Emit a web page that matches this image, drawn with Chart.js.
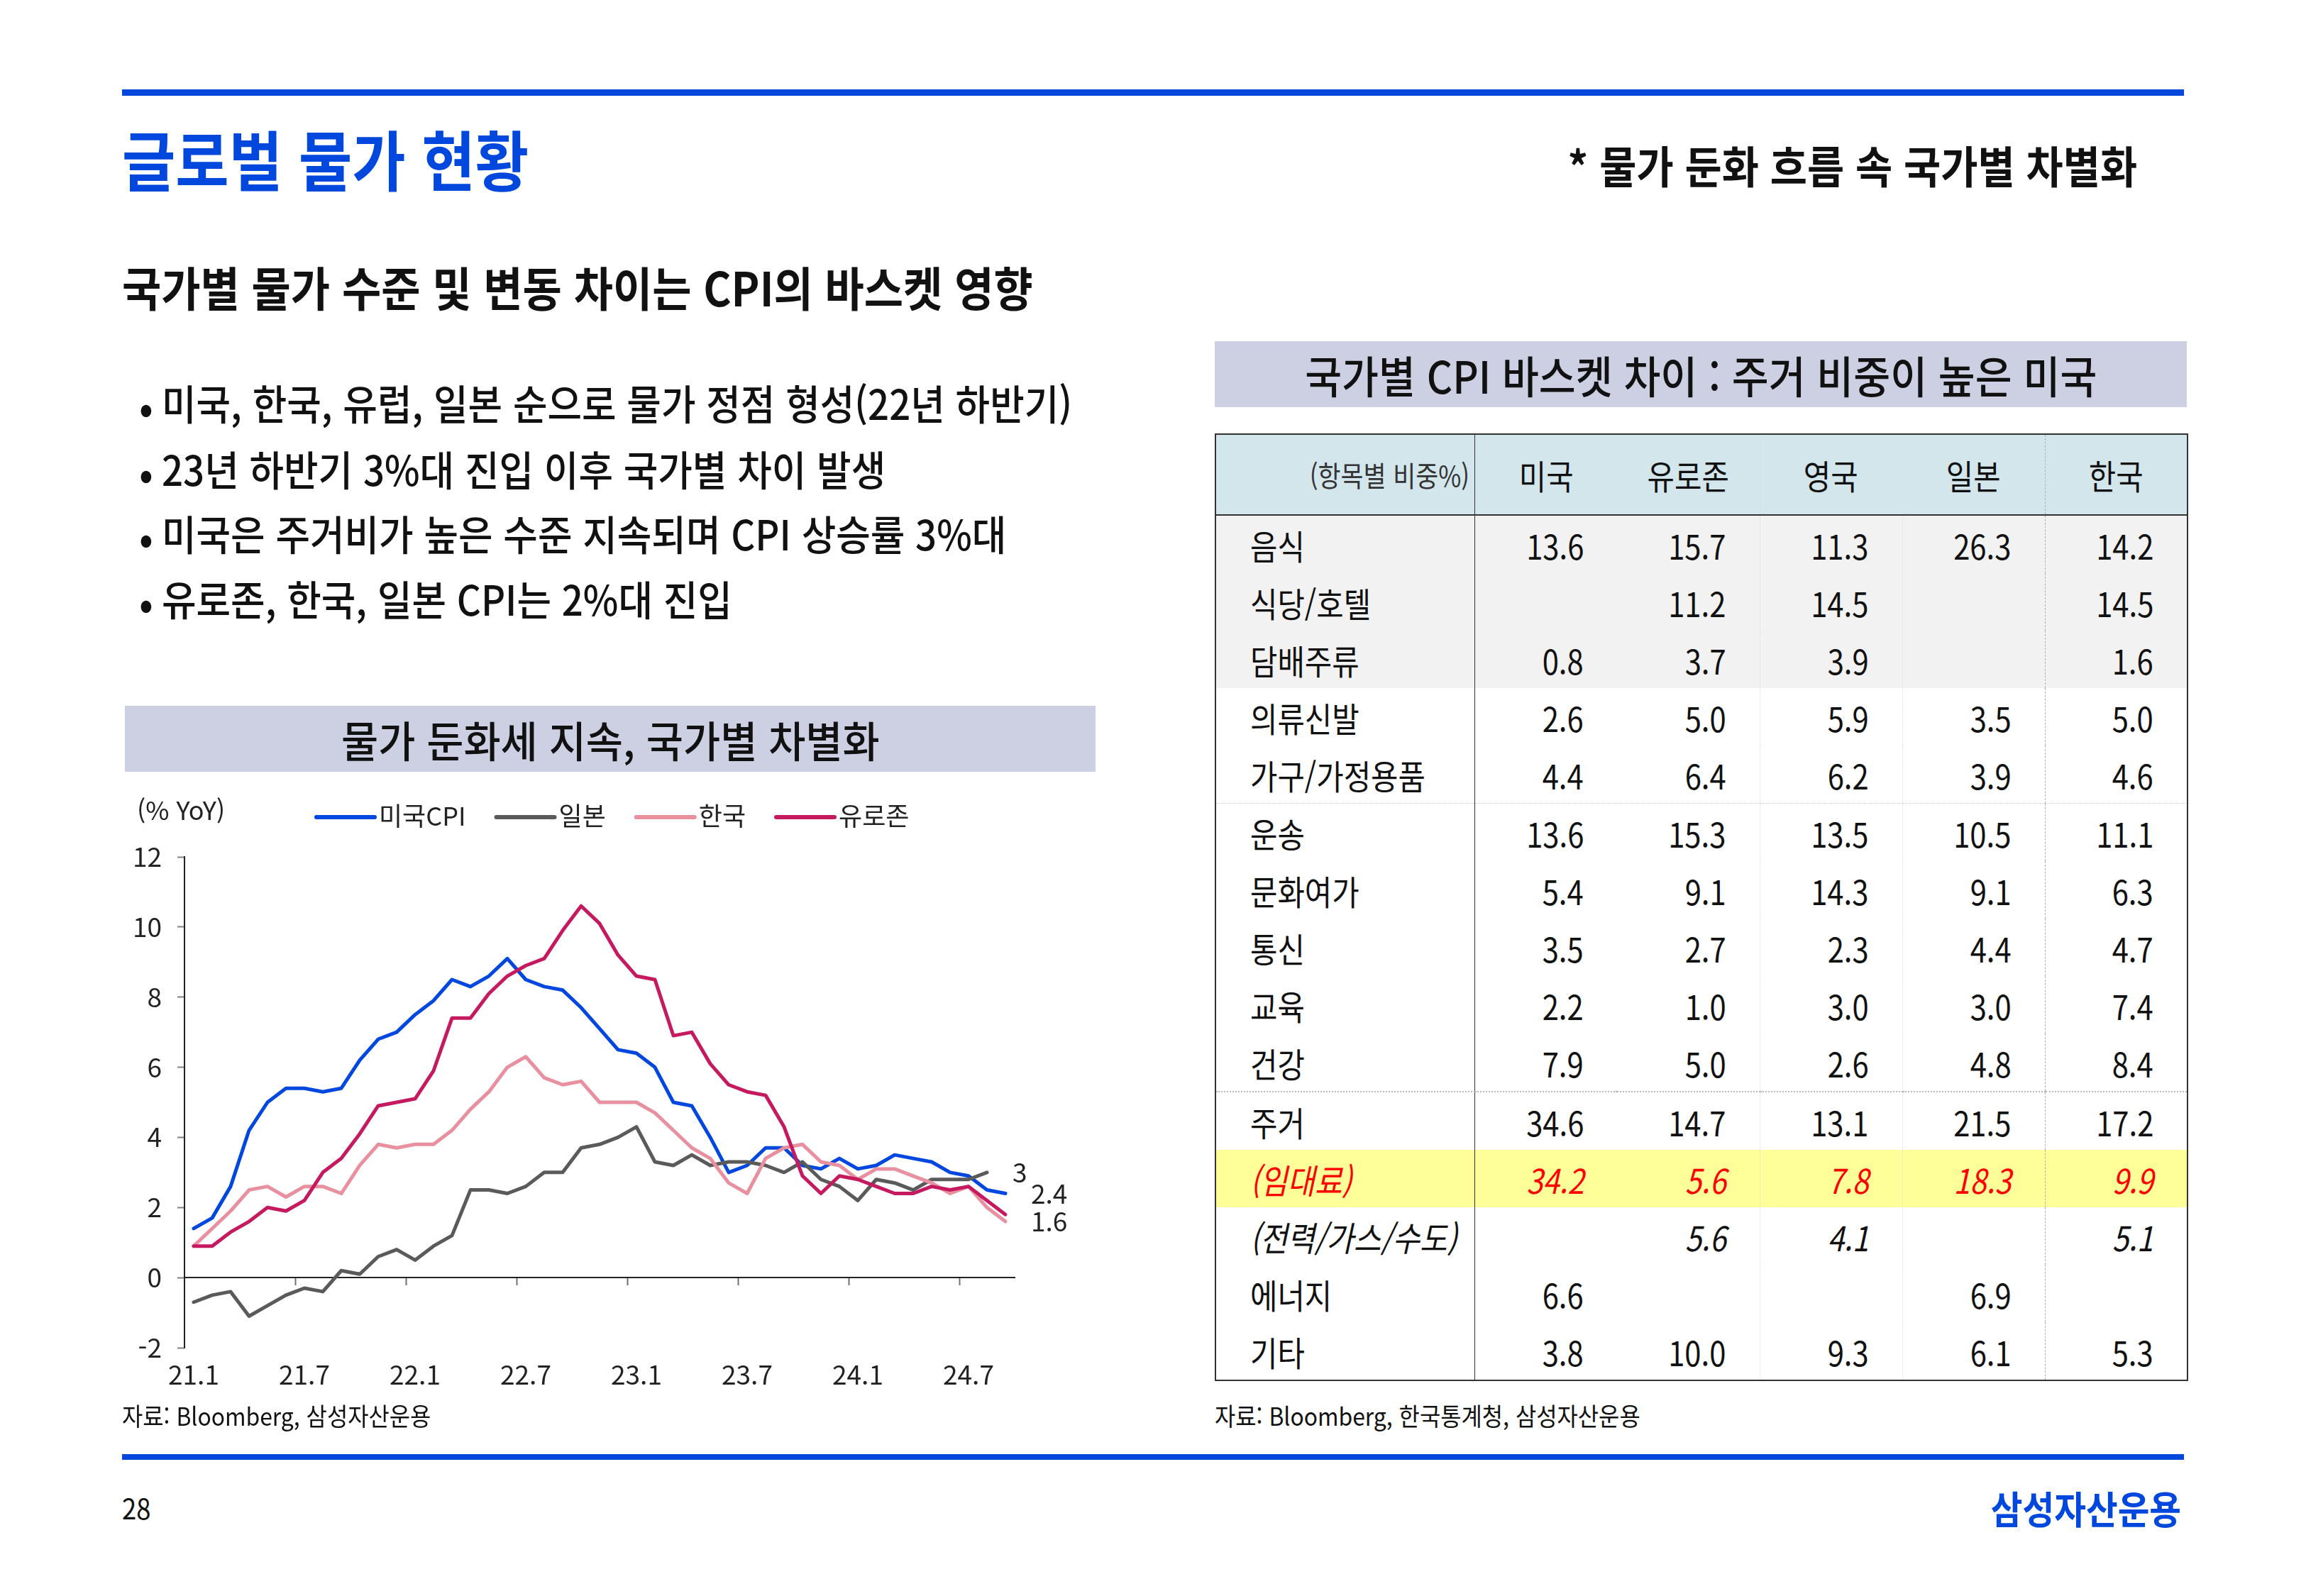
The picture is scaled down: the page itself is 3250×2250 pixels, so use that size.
<!DOCTYPE html>
<html lang="ko">
<head>
<meta charset="utf-8">
<title>글로벌 물가 현황</title>
<script src="https://cdn.jsdelivr.net/npm/chart.js@4.4.1/dist/chart.umd.min.js"></script>
<style>
  html, body { margin: 0; padding: 0; background: #fff; }
  body { width: 3250px; height: 2250px; position: relative; overflow: hidden;
         font-family: 'Noto Sans CJK KR', 'Noto Sans', sans-serif; color: #111; }
  .bar { position: absolute; background: #0047de; }
  .t { position: absolute; white-space: nowrap; line-height: 1;
       transform: scaleX(.91); transform-origin: left center; }
  .t.r { transform-origin: right center; }
  .box { position: absolute; background: #cdd0e3; display: flex;
         align-items: center; justify-content: center; }
  .box span { display: inline-block; white-space: nowrap; transform: scaleX(.91); }
  #chartWrap { position: absolute; left: 150px; top: 1100px; width: 1400px; height: 900px; }
  #tbl { position: absolute; left: 1712px; top: 611px; width: 1370px;
         border-collapse: collapse; table-layout: fixed; border: 2.5px solid #333; }
  #tbl td { padding: 0; font-size: 48px; white-space: nowrap; }
  #tbl td span { display: inline-block; transform: scaleX(.87); }
  #tbl thead td { height: 112px; background: #d3e6ec; text-align: center;
                  border-bottom: 2.5px solid #333; }
  #tbl thead td span { transform-origin: center center; }
  #tbl tbody td { height: 81px; }
  #tbl td.lab { text-align: left; padding-left: 48px; border-right: 1.5px solid #333; }
  #tbl td.lab span { transform-origin: left center; }
  #tbl td.num { text-align: right; padding-right: 47px; }
  #tbl td.num span { transform-origin: right center; }
  #tbl td.c1, #tbl td.c2 { border-right: 1px dotted #ddd; }
  #tbl td.c3, #tbl td.c4 { border-right: 1.5px dashed #b0b0b0; }
  #tbl tr.gray td { background: #f2f2f2; }
  #tbl tr.hl td { background: #ffff99; color: #ff0000; font-style: italic; }
  #tbl tr.it td { font-style: italic; }
  #tbl tr.sep1 td { border-bottom: 1.5px dotted #d0d0d0; }
  #tbl tr.sep2 td { border-bottom: 2px dotted #b8b8b8; }
</style>
</head>
<body>

<div class="bar" style="left:172px; top:126px; width:2906px; height:9px;"></div>
<div class="t" style="left:172px; top:176px; font-size:92px; font-weight:700; color:#0047de; transform:scaleX(.89);">글로벌 물가 현황</div>
<div class="t r" style="right:238px; top:201px; font-size:62px; font-weight:700; transform:scaleX(.915);">* 물가 둔화 흐름 속 국가별 차별화</div>
<div class="t" style="left:172px; top:370px; font-size:66px; font-weight:700;">국가별 물가 수준 및 변동 차이는 CPI의 바스켓 영향</div>

<div class="t" style="left:196px; top:538px; font-size:64px;">•</div>
<div class="t" style="left:228px; top:538px; font-size:58px; font-weight:500;">미국, 한국, 유럽, 일본 순으로 물가 정점 형성(22년 하반기)</div>
<div class="t" style="left:196px; top:631px; font-size:64px;">•</div>
<div class="t" style="left:228px; top:631px; font-size:58px; font-weight:500;">23년 하반기 3%대 진입 이후 국가별 차이 발생</div>
<div class="t" style="left:196px; top:722px; font-size:64px;">•</div>
<div class="t" style="left:228px; top:722px; font-size:58px; font-weight:500;">미국은 주거비가 높은 수준 지속되며 CPI 상승률 3%대</div>
<div class="t" style="left:196px; top:814px; font-size:64px;">•</div>
<div class="t" style="left:228px; top:814px; font-size:58px; font-weight:500;">유로존, 한국, 일본 CPI는 2%대 진입</div>

<div class="box" style="left:176px; top:995px; width:1368px; height:93px; font-size:60px; font-weight:500;"><span style="transform:scaleX(.945)">물가 둔화세 지속, 국가별 차별화</span></div>
<div class="box" style="left:1712px; top:481px; width:1370px; height:93px; font-size:62px; font-weight:500;"><span>국가별 CPI 바스켓 차이 : 주거 비중이 높은 미국</span></div>

<div id="chartWrap"><canvas id="cpiChart" width="1400" height="900"></canvas></div>

<table id="tbl"></table>

<div class="t" style="left:172px; top:1977px; font-size:35px;">자료: Bloomberg, 삼성자산운용</div>
<div class="t" style="left:1712px; top:1977px; font-size:35px;">자료: Bloomberg, 한국통계청, 삼성자산운용</div>

<div class="bar" style="left:172px; top:2050px; width:2906px; height:8px;"></div>
<div class="t" style="left:172px; top:2105px; font-size:40px;">28</div>
<div class="t r" style="right:176px; top:2099px; font-size:54px; font-weight:700; color:#0047de; transform:scaleX(.9);">삼성자산운용</div>

<script>
// 월별 카테고리 (21.1 ~ 24.9)
const months = [
  '21.1', '21.2', '21.3', '21.4', '21.5', '21.6', '21.7', '21.8', '21.9', '21.10', '21.11', '21.12',
  '22.1', '22.2', '22.3', '22.4', '22.5', '22.6', '22.7', '22.8', '22.9', '22.10', '22.11', '22.12',
  '23.1', '23.2', '23.3', '23.4', '23.5', '23.6', '23.7', '23.8', '23.9', '23.10', '23.11', '23.12',
  '24.1', '24.2', '24.3', '24.4', '24.5', '24.6', '24.7', '24.8', '24.9'
];
const tickLabels = ['21.1', '21.7', '22.1', '22.7', '23.1', '23.7', '24.1', '24.7'];

const usCpi = [
  1.4, 1.7, 2.6, 4.2, 5.0, 5.4, 5.4, 5.3, 5.4, 6.2, 6.8, 7.0,
  7.5, 7.9, 8.5, 8.3, 8.6, 9.1, 8.5, 8.3, 8.2, 7.7, 7.1, 6.5,
  6.4, 6.0, 5.0, 4.9, 4.0, 3.0, 3.2, 3.7, 3.7, 3.2, 3.1, 3.4,
  3.1, 3.2, 3.5, 3.4, 3.3, 3.0, 2.9, 2.5, 2.4
];
const japanCpi = [
  -0.7, -0.5, -0.4, -1.1, -0.8, -0.5, -0.3, -0.4, 0.2, 0.1, 0.6, 0.8,
  0.5, 0.9, 1.2, 2.5, 2.5, 2.4, 2.6, 3.0, 3.0, 3.7, 3.8, 4.0,
  4.3, 3.3, 3.2, 3.5, 3.2, 3.3, 3.3, 3.2, 3.0, 3.3, 2.8, 2.6,
  2.2, 2.8, 2.7, 2.5, 2.8, 2.8, 2.8, 3.0, null
];
const koreaCpi = [
  0.9, 1.4, 1.9, 2.5, 2.6, 2.3, 2.6, 2.6, 2.4, 3.2, 3.8, 3.7,
  3.8, 3.8, 4.2, 4.8, 5.3, 6.0, 6.3, 5.7, 5.5, 5.6, 5.0, 5.0,
  5.0, 4.7, 4.2, 3.7, 3.4, 2.7, 2.4, 3.4, 3.7, 3.8, 3.3, 3.2,
  2.8, 3.1, 3.1, 2.9, 2.7, 2.4, 2.6, 2.0, 1.6
];
const euroCpi = [
  0.9, 0.9, 1.3, 1.6, 2.0, 1.9, 2.2, 3.0, 3.4, 4.1, 4.9, 5.0,
  5.1, 5.9, 7.4, 7.4, 8.1, 8.6, 8.9, 9.1, 9.9, 10.6, 10.1, 9.2,
  8.6, 8.5, 6.9, 7.0, 6.1, 5.5, 5.3, 5.2, 4.3, 2.9, 2.4, 2.9,
  2.8, 2.6, 2.4, 2.4, 2.6, 2.5, 2.6, 2.2, 1.8
];

// 표 데이터
const tableCols = ['미국', '유로존', '영국', '일본', '한국'];
const tableRows = ['음식', '식당/호텔', '담배주류', '의류신발', '가구/가정용품', '운송', '문화여가',
  '통신', '교육', '건강', '주거', '(임대료)', '(전력/가스/수도)', '에너지', '기타'];
const tableValues = [
  ['13.6', '15.7', '11.3', '26.3', '14.2'],
  ['', '11.2', '14.5', '', '14.5'],
  ['0.8', '3.7', '3.9', '', '1.6'],
  ['2.6', '5.0', '5.9', '3.5', '5.0'],
  ['4.4', '6.4', '6.2', '3.9', '4.6'],
  ['13.6', '15.3', '13.5', '10.5', '11.1'],
  ['5.4', '9.1', '14.3', '9.1', '6.3'],
  ['3.5', '2.7', '2.3', '4.4', '4.7'],
  ['2.2', '1.0', '3.0', '3.0', '7.4'],
  ['7.9', '5.0', '2.6', '4.8', '8.4'],
  ['34.6', '14.7', '13.1', '21.5', '17.2'],
  ['34.2', '5.6', '7.8', '18.3', '9.9'],
  ['', '5.6', '4.1', '', '5.1'],
  ['6.6', '', '', '6.9', ''],
  ['3.8', '10.0', '9.3', '6.1', '5.3']
];

function buildTable() {
  const rowClass = (i) => {
    const cls = [];
    if (i < 3) cls.push('gray');
    if (i === 11) cls.push('hl');
    if (i === 12) cls.push('it');
    if (i === 4) cls.push('sep1');
    if (i === 9) cls.push('sep2');
    return cls.join(' ');
  };
  let html = '<colgroup><col style="width:365px">' +
    tableCols.map(() => '<col style="width:201px">').join('') + '</colgroup>';
  html += '<thead><tr><td class="lab" style="text-align:right;padding:0 6px 0 0;font-size:40px;color:#333">' +
    '<span style="transform-origin:right center">(항목별 비중%)</span></td>' +
    tableCols.map((c, j) => `<td class="c${j}"><span>${c}</span></td>`).join('') + '</tr></thead><tbody>';
  tableRows.forEach((r, i) => {
    html += `<tr class="${rowClass(i)}"><td class="lab"><span>${r}</span></td>` +
      tableValues[i].map((v, j) => `<td class="num c${j}"><span>${v}</span></td>`).join('') + '</tr>';
  });
  html += '</tbody>';
  document.getElementById('tbl').innerHTML = html;
}
buildTable();

const fontFamily = "'Noto Sans CJK KR', 'Noto Sans', sans-serif";
Chart.defaults.font.family = fontFamily;
Chart.defaults.color = '#222';

// 범례, (% YoY), 마지막 값 라벨
const legendRow = {
  id: 'legendRow',
  afterDraw(chart) {
    const ctx = chart.ctx;
    ctx.save();
    ctx.font = `36px ${fontFamily}`;
    ctx.textBaseline = 'middle';
    ctx.fillStyle = '#222';
    ctx.fillText('(% YoY)', 43, 42);
    let x = 296;
    chart.data.datasets.forEach((ds) => {
      ctx.strokeStyle = ds.borderColor;
      ctx.lineWidth = 6;
      ctx.lineCap = 'round';
      ctx.beginPath();
      ctx.moveTo(x, 52);
      ctx.lineTo(x + 82, 52);
      ctx.stroke();
      x += 88;
      ctx.fillText(ds.label, x, 50);
      x += ctx.measureText(ds.label).width + 43;
    });
    ctx.restore();
  }
};

const endLabels = {
  id: 'endLabels',
  afterDatasetsDraw(chart) {
    const ctx = chart.ctx;
    ctx.save();
    ctx.font = `37px ${fontFamily}`;
    ctx.textBaseline = 'middle';
    ctx.fillStyle = '#222';
    chart.data.datasets.forEach((ds, di) => {
      if (!ds.endLabel) return;
      let idx = ds.data.length - 1;
      while (idx > 0 && ds.data[idx] === null) idx--;
      const pt = chart.getDatasetMeta(di).data[idx];
      ctx.fillText(String(ds.data[idx]), pt.x + 36, pt.y);
    });
    ctx.restore();
  }
};

const ctx = document.getElementById('cpiChart').getContext('2d');
new Chart(ctx, {
  type: 'line',
  data: {
    labels: months,
    datasets: [
      { label: '미국CPI', data: usCpi, borderColor: '#0047df', order: 4, endLabel: true },
      { label: '일본', data: japanCpi, borderColor: '#5a5a5a', order: 3, endLabel: true },
      { label: '한국', data: koreaCpi, borderColor: '#e8909f', order: 2, endLabel: true },
      { label: '유로존', data: euroCpi, borderColor: '#c51a5f', order: 1, endLabel: false }
    ]
  },
  options: {
    responsive: false,
    animation: false,
    devicePixelRatio: 1,
    layout: { padding: { top: 108, right: 120, bottom: 20, left: 0 } },
    elements: {
      line: { borderWidth: 5, tension: 0, borderJoinStyle: 'round', borderCapStyle: 'round', fill: false },
      point: { radius: 0, hoverRadius: 0 }
    },
    plugins: {
      legend: { display: false },
      tooltip: { enabled: false },
      title: { display: false }
    },
    scales: {
      x: {
        type: 'category',
        position: 'bottom',
        offset: true,
        border: { display: false },
        grid: { display: false, drawTicks: false },
        afterFit: (s) => { s.height = 80; },
        ticks: {
          autoSkip: false,
          maxRotation: 0,
          padding: 16,
          font: { size: 37 },
          color: '#222',
          callback(v) {
            const l = this.getLabelForValue(v);
            return tickLabels.includes(l) ? l : '';
          }
        }
      },
      x2: {
        type: 'category',
        axis: 'x',
        position: { y: 0 },
        offset: true,
        border: { display: true, color: '#222', width: 2 },
        grid: {
          display: true,
          offset: true,
          drawOnChartArea: false,
          drawTicks: true,
          tickLength: 10,
          tickWidth: 2,
          tickColor: (c) => (c.index > 0 && c.index < months.length && c.index % 6 === 0) ? '#707070' : 'rgba(0,0,0,0)'
        },
        ticks: { display: false, autoSkip: false }
      },
      y: {
        min: -2,
        max: 12,
        position: 'left',
        border: { display: true, color: '#222', width: 2 },
        grid: { display: true, drawOnChartArea: false, drawTicks: true, tickLength: 10, tickWidth: 2, tickColor: '#808080' },
        afterFit: (s) => { s.width = 110; },
        ticks: { stepSize: 2, padding: 22, font: { size: 37 }, color: '#222' }
      }
    }
  },
  plugins: [legendRow, endLabels]
});
</script>
</body>
</html>
